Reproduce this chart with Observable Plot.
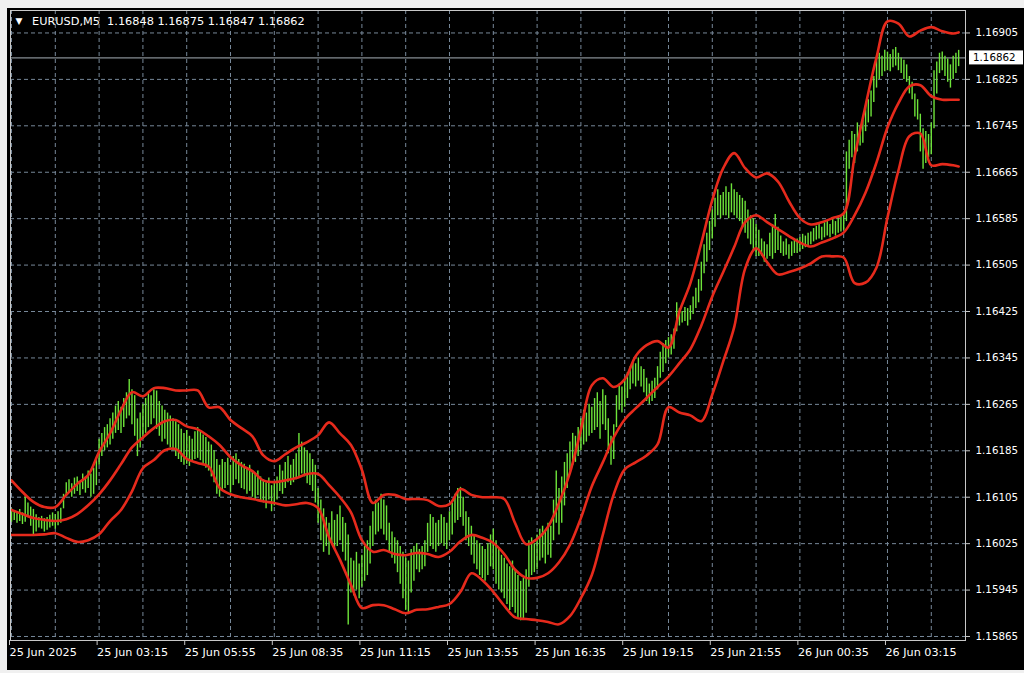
<!DOCTYPE html>
<html><head><meta charset="utf-8">
<script src="https://cdn.jsdelivr.net/npm/d3@7"></script>
<script src="https://cdn.jsdelivr.net/npm/@observablehq/plot@0.6"></script>
<style>
html,body{margin:0;padding:0;background:#f0f0f0;width:1024px;height:673px;overflow:hidden}
#chart{position:absolute;left:0;top:0}
.strip{position:absolute;background:#f0f0f0}
</style></head><body>
<div id="chart"></div>
<div class="strip" style="left:0;top:0;width:1024px;height:8px"></div>
<div class="strip" style="left:0;top:0;width:7px;height:673px"></div>
<div class="strip" style="left:0;top:670px;width:1024px;height:3px"></div>
<script>
// ---- header info ----
const symbol = "EURUSD";
const timeframe = "M5";
const lastOHLC = [1.16848, 1.16875, 1.16847, 1.16862];
const lastClose = 1.16862;

// ---- axis ticks ----
const yTicks = [1.16905, 1.16825, 1.16745, 1.16665, 1.16585, 1.16505, 1.16425, 1.16345, 1.16265, 1.16185, 1.16105, 1.16025, 1.15945, 1.15865];
const xTickIdx = [0, 32, 64, 96, 128, 160, 192, 224, 256, 288, 320];
const xTickLabels = ["25 Jun 2025", "25 Jun 03:15", "25 Jun 05:55", "25 Jun 08:35", "25 Jun 11:15", "25 Jun 13:55", "25 Jun 16:35", "25 Jun 19:15", "25 Jun 21:55", "26 Jun 00:35", "26 Jun 03:15"];
const gridIdx = [0, 16, 32, 48, 64, 80, 96, 112, 128, 144, 160, 176, 192, 208, 224, 240, 256, 272, 288, 304, 320, 336];

// ---- M5 bars (high / low) ----
const barHigh = [
1.16085,1.16082,1.16080,1.16084,1.16078,1.16106,1.16095,1.16088,1.16084,1.16075,
1.16070,1.16072,1.16068,1.16070,1.16074,1.16078,1.16075,1.16080,1.16086,1.16110,
1.16130,1.16135,1.16128,1.16138,1.16140,1.16132,1.16145,1.16140,1.16150,1.16145,
1.16155,1.16170,1.16205,1.16215,1.16225,1.16230,1.16240,1.16250,1.16262,1.16270,
1.16260,1.16275,1.16285,1.16308,1.16290,1.16280,1.16240,1.16250,1.16265,1.16275,
1.16285,1.16280,1.16290,1.16288,1.16270,1.16262,1.16255,1.16250,1.16245,1.16240,
1.16235,1.16230,1.16222,1.16215,1.16220,1.16210,1.16205,1.16218,1.16225,1.16220,
1.16212,1.16208,1.16200,1.16195,1.16185,1.16170,1.16160,1.16170,1.16165,1.16172,
1.16160,1.16175,1.16180,1.16170,1.16165,1.16162,1.16155,1.16160,1.16150,1.16145,
1.16150,1.16140,1.16135,1.16130,1.16138,1.16125,1.16130,1.16140,1.16160,1.16150,
1.16165,1.16175,1.16160,1.16170,1.16180,1.16215,1.16200,1.16190,1.16185,1.16180,
1.16170,1.16160,1.16120,1.16100,1.16085,1.16070,1.16060,1.16080,1.16065,1.16075,
1.16090,1.16070,1.16060,1.16040,1.16000,1.15995,1.16010,1.15990,1.16005,1.16020,
1.16030,1.16055,1.16080,1.16100,1.16095,1.16110,1.16100,1.16090,1.16060,1.16045,
1.16035,1.16030,1.16020,1.16010,1.16000,1.15995,1.16015,1.16020,1.16025,1.16015,
1.16020,1.16030,1.16060,1.16075,1.16070,1.16060,1.16065,1.16075,1.16070,1.16060,
1.16080,1.16095,1.16110,1.16120,1.16122,1.16105,1.16080,1.16070,1.16055,1.16040,
1.16030,1.16025,1.16020,1.16015,1.16025,1.16040,1.16050,1.16030,1.16015,1.16005,
1.16000,1.15990,1.15985,1.15995,1.15980,1.15970,1.15960,1.15965,1.15980,1.16030,
1.16035,1.16025,1.16040,1.16050,1.16055,1.16045,1.16060,1.16055,1.16100,1.16150,
1.16120,1.16140,1.16165,1.16180,1.16200,1.16215,1.16210,1.16225,1.16240,1.16255,
1.16250,1.16265,1.16260,1.16275,1.16285,1.16270,1.16290,1.16280,1.16240,1.16210,
1.16230,1.16280,1.16300,1.16295,1.16310,1.16320,1.16330,1.16340,1.16335,1.16345,
1.16330,1.16325,1.16310,1.16300,1.16305,1.16310,1.16330,1.16355,1.16370,1.16375,
1.16380,1.16385,1.16395,1.16440,1.16430,1.16425,1.16432,1.16430,1.16435,1.16450,
1.16465,1.16480,1.16510,1.16540,1.16560,1.16580,1.16600,1.16620,1.16635,1.16625,
1.16630,1.16640,1.16630,1.16645,1.16635,1.16630,1.16625,1.16620,1.16615,1.16600,
1.16590,1.16585,1.16575,1.16565,1.16550,1.16545,1.16540,1.16560,1.16575,1.16592,
1.16570,1.16555,1.16545,1.16550,1.16540,1.16545,1.16548,1.16550,1.16552,1.16558,
1.16555,1.16560,1.16562,1.16568,1.16572,1.16575,1.16570,1.16578,1.16582,1.16575,
1.16585,1.16580,1.16588,1.16590,1.16595,1.16700,1.16720,1.16735,1.16730,1.16750,
1.16745,1.16755,1.16780,1.16790,1.16805,1.16830,1.16860,1.16870,1.16865,1.16875,
1.16872,1.16868,1.16876,1.16880,1.16870,1.16862,1.16858,1.16850,1.16830,1.16820,
1.16800,1.16790,1.16765,1.16740,1.16735,1.16730,1.16750,1.16840,1.16855,1.16870,
1.16872,1.16865,1.16860,1.16850,1.16865,1.16870,1.16875];
const barLow = [
1.16062,1.16065,1.16060,1.16063,1.16058,1.16062,1.16070,1.16055,1.16040,1.16045,
1.16052,1.16050,1.16045,1.16048,1.16052,1.16055,1.16050,1.16056,1.16060,1.16085,
1.16108,1.16112,1.16105,1.16110,1.16115,1.16108,1.16118,1.16112,1.16120,1.16105,
1.16110,1.16125,1.16160,1.16175,1.16185,1.16190,1.16195,1.16205,1.16215,1.16220,
1.16215,1.16225,1.16240,1.16245,1.16230,1.16210,1.16175,1.16190,1.16205,1.16215,
1.16225,1.16230,1.16240,1.16222,1.16210,1.16200,1.16205,1.16195,1.16190,1.16185,
1.16175,1.16170,1.16165,1.16160,1.16162,1.16158,1.16165,1.16170,1.16172,1.16168,
1.16160,1.16155,1.16150,1.16140,1.16130,1.16110,1.16105,1.16118,1.16120,1.16125,
1.16112,1.16125,1.16135,1.16128,1.16120,1.16118,1.16110,1.16115,1.16105,1.16100,
1.16108,1.16098,1.16095,1.16085,1.16100,1.16080,1.16090,1.16100,1.16115,1.16110,
1.16120,1.16130,1.16125,1.16130,1.16135,1.16140,1.16145,1.16140,1.16128,1.16125,
1.16115,1.16095,1.16060,1.16030,1.16010,1.16020,1.16005,1.16025,1.16015,1.16020,
1.16030,1.16010,1.15995,1.15885,1.15940,1.15935,1.15945,1.15930,1.15950,1.15960,
1.15970,1.15990,1.16020,1.16040,1.16045,1.16050,1.16040,1.16030,1.16010,1.16000,
1.15990,1.15975,1.15955,1.15930,1.15910,1.15905,1.15940,1.15960,1.15980,1.15975,
1.15980,1.15985,1.16010,1.16020,1.16015,1.16010,1.16020,1.16025,1.16020,1.16015,
1.16030,1.16040,1.16060,1.16065,1.16070,1.16055,1.16030,1.16020,1.16005,1.15990,
1.15980,1.15970,1.15965,1.15960,1.15970,1.15985,1.15980,1.15955,1.15945,1.15940,
1.15930,1.15920,1.15910,1.15915,1.15905,1.15895,1.15892,1.15895,1.15905,1.15950,
1.15970,1.15975,1.15980,1.15995,1.16000,1.15990,1.16005,1.16000,1.16030,1.16060,
1.16040,1.16060,1.16090,1.16120,1.16150,1.16160,1.16165,1.16175,1.16185,1.16195,
1.16200,1.16210,1.16215,1.16220,1.16225,1.16205,1.16230,1.16220,1.16180,1.16160,
1.16170,1.16225,1.16255,1.16250,1.16260,1.16275,1.16290,1.16300,1.16295,1.16305,
1.16295,1.16285,1.16270,1.16265,1.16270,1.16275,1.16290,1.16310,1.16320,1.16335,
1.16345,1.16350,1.16360,1.16390,1.16400,1.16405,1.16408,1.16400,1.16410,1.16420,
1.16430,1.16440,1.16460,1.16490,1.16510,1.16530,1.16550,1.16570,1.16590,1.16585,
1.16590,1.16590,1.16585,1.16595,1.16590,1.16585,1.16580,1.16570,1.16560,1.16550,
1.16540,1.16530,1.16520,1.16520,1.16520,1.16510,1.16515,1.16520,1.16515,1.16525,
1.16530,1.16525,1.16520,1.16522,1.16515,1.16520,1.16525,1.16525,1.16528,1.16532,
1.16535,1.16538,1.16540,1.16545,1.16548,1.16550,1.16548,1.16552,1.16555,1.16552,
1.16558,1.16555,1.16560,1.16562,1.16565,1.16580,1.16670,1.16690,1.16680,1.16700,
1.16710,1.16715,1.16735,1.16750,1.16760,1.16785,1.16810,1.16825,1.16830,1.16838,
1.16840,1.16838,1.16845,1.16848,1.16840,1.16835,1.16825,1.16820,1.16800,1.16790,
1.16760,1.16755,1.16700,1.16670,1.16680,1.16690,1.16695,1.16740,1.16800,1.16835,
1.16840,1.16830,1.16820,1.16810,1.16825,1.16835,1.16847];

// ---- Bollinger bands, sampled at these bar indices ----
const bandIdx = [0,4,8,12,16,20,24,28,32,36,40,44,48,52,56,60,64,68,72,76,80,84,88,92,96,100,104,108,112,116,120,124,128,132,136,140,144,148,152,156,160,164,168,172,176,180,184,188,192,196,200,204,208,212,216,220,224,228,232,236,240,244,248,252,256,260,264,268,272,276,280,284,288,292,296,300,304,308,312,316,320,324,328,332,336,340,344,346];
const bandUpper = [
1.16134,1.16114,1.16097,1.16088,1.16088,1.16109,1.16128,1.16143,1.16183,1.16215,
1.16255,1.16286,1.16279,1.16293,1.16293,1.16289,1.16289,1.16289,1.16260,1.16260,
1.16238,1.16224,1.16210,1.16177,1.16167,1.16179,1.16191,1.16200,1.16212,1.16234,
1.16215,1.16195,1.16152,1.16095,1.16109,1.16109,1.16102,1.16102,1.16100,1.16090,
1.16093,1.16119,1.16109,1.16105,1.16105,1.16102,1.16060,1.16024,1.16033,1.16054,
1.16095,1.16147,1.16221,1.16298,1.16310,1.16295,1.16308,1.16348,1.16367,1.16374,
1.16363,1.16425,1.16474,1.16543,1.16617,1.16672,1.16698,1.16672,1.16656,1.16663,
1.16649,1.16615,1.16586,1.16575,1.16579,1.16586,1.16594,1.16692,1.16780,1.16863,
1.16925,1.16921,1.16899,1.16909,1.16915,1.16908,1.16904,1.16906];
const bandMiddle = [
1.16083,1.16076,1.16069,1.16066,1.16064,1.16067,1.16076,1.16091,1.16110,1.16134,
1.16162,1.16191,1.16208,1.16224,1.16236,1.16238,1.16227,1.16222,1.16210,1.16195,
1.16174,1.16160,1.16150,1.16134,1.16131,1.16134,1.16138,1.16145,1.16145,1.16126,
1.16105,1.16079,1.16031,1.16011,1.16014,1.16007,1.16005,1.16009,1.16007,1.16002,
1.16011,1.16029,1.16040,1.16035,1.16026,1.16007,1.15980,1.15966,1.15966,1.15974,
1.15993,1.16023,1.16069,1.16124,1.16165,1.16208,1.16239,1.16258,1.16276,1.16295,
1.16313,1.16336,1.16360,1.16401,1.16451,1.16493,1.16536,1.16579,1.16591,1.16579,
1.16567,1.16555,1.16544,1.16537,1.16544,1.16551,1.16561,1.16591,1.16630,1.16682,
1.16742,1.16784,1.16813,1.16815,1.16796,1.16790,1.16790,1.16790];
const bandLower = [
1.16040,1.16040,1.16040,1.16041,1.16043,1.16035,1.16028,1.16031,1.16041,1.16064,
1.16083,1.16115,1.16155,1.16169,1.16186,1.16188,1.16171,1.16164,1.16158,1.16121,
1.16110,1.16105,1.16102,1.16098,1.16095,1.16091,1.16093,1.16095,1.16086,1.16036,
1.15997,1.15954,1.15914,1.15919,1.15919,1.15912,1.15905,1.15911,1.15912,1.15916,
1.15921,1.15942,1.15974,1.15962,1.15942,1.15918,1.15898,1.15895,1.15893,1.15890,
1.15886,1.15900,1.15931,1.15971,1.16040,1.16110,1.16153,1.16165,1.16177,1.16196,
1.16260,1.16251,1.16246,1.16236,1.16282,1.16339,1.16398,1.16499,1.16534,1.16510,
1.16489,1.16493,1.16499,1.16508,1.16520,1.16520,1.16518,1.16474,1.16475,1.16501,
1.16587,1.16668,1.16727,1.16732,1.16677,1.16679,1.16677,1.16675];

// ---- styles ----
const bgColor = "#000000";
const gridColor = "#778899";
const barColor = "#6ee43a";
const bandColor = "#e62a1c";
const axisColor = "#c8c8c8";

const bars = barHigh.map((h, i) => ({i, high: h, low: barLow[i]}));
const bandRows = bandIdx.map((i, k) => ({i, upper: bandUpper[k], middle: bandMiddle[k], lower: bandLower[k]}));
const labelByIdx = new Map(xTickIdx.map((d, k) => [d, xTickLabels[k]]));
const header = `${symbol},${timeframe}\u00a0\u00a0${lastOHLC.map(v => v.toFixed(5)).join(" ")}`;

const W = 1024, H = 673, mR = 59;
const chart = Plot.plot({
  width: W, height: H,
  marginLeft: 10, marginRight: mR, marginTop: 10, marginBottom: 33,
  style: {background: bgColor, color: "#fff", fontFamily: "DejaVu Sans", fontSize: "11px"},
  x: {domain: [-0.37, 348.5], label: null},
  y: {domain: [1.158581, 1.169437], label: null},
  marks: [
    Plot.ruleY(yTicks, {stroke: gridColor, strokeDasharray: "4,3", strokeWidth: 1}),
    Plot.ruleX(gridIdx, {stroke: gridColor, strokeDasharray: "4,3", strokeWidth: 1}),
    Plot.ruleY([lastClose], {stroke: "#a8b0b8", strokeWidth: 1}),
    Plot.ruleX(bars, {x: "i", y1: "low", y2: "high", stroke: barColor, strokeWidth: 1.4}),
    Plot.line(bandRows, {x: "i", y: "upper", stroke: bandColor, strokeWidth: 2.6, curve: "catmull-rom"}),
    Plot.line(bandRows, {x: "i", y: "middle", stroke: bandColor, strokeWidth: 2.6, curve: "catmull-rom"}),
    Plot.line(bandRows, {x: "i", y: "lower", stroke: bandColor, strokeWidth: 2.6, curve: "catmull-rom"}),
    Plot.frame({stroke: axisColor}),
    Plot.axisY({anchor: "right", ticks: yTicks, tickFormat: d => d.toFixed(5), tickSize: 4, tickPadding: 6, stroke: axisColor, fill: "#fff", fontSize: 10.3, label: null}),
    Plot.axisX({anchor: "bottom", ticks: xTickIdx, tickFormat: d => labelByIdx.get(d), tickSize: 5, tickPadding: 3, textAnchor: "start", dx: -2, stroke: axisColor, fill: "#fff", fontSize: 11.2, label: null}),
    Plot.text(["\u25BC"], {frameAnchor: "top-left", dx: 5, dy: 11, text: d => d, fill: "#fff", fontSize: 9, textAnchor: "start", lineAnchor: "middle"}),
    Plot.text([header], {frameAnchor: "top-left", dx: 21.5, dy: 11, text: d => d, fill: "#fff", fontSize: 11.3, textAnchor: "start", lineAnchor: "middle"})
  ]
});

// current price tag on the price scale
const yScale = chart.scale("y");
const yy = yScale.apply(lastClose);
const tag = d3.select(chart).append("g").attr("text-anchor", "start");
tag.append("rect").attr("x", W - mR + 4).attr("y", yy - 7).attr("width", 54).attr("height", 14).attr("fill", "#ffffff");
tag.append("text").attr("x", W - mR + 8).attr("y", yy).attr("dy", "0.35em").attr("text-anchor", "start").attr("fill", "#000").attr("font-size", 10.3).text(lastClose.toFixed(5));

document.getElementById("chart").appendChild(chart);
</script>
</body></html>
